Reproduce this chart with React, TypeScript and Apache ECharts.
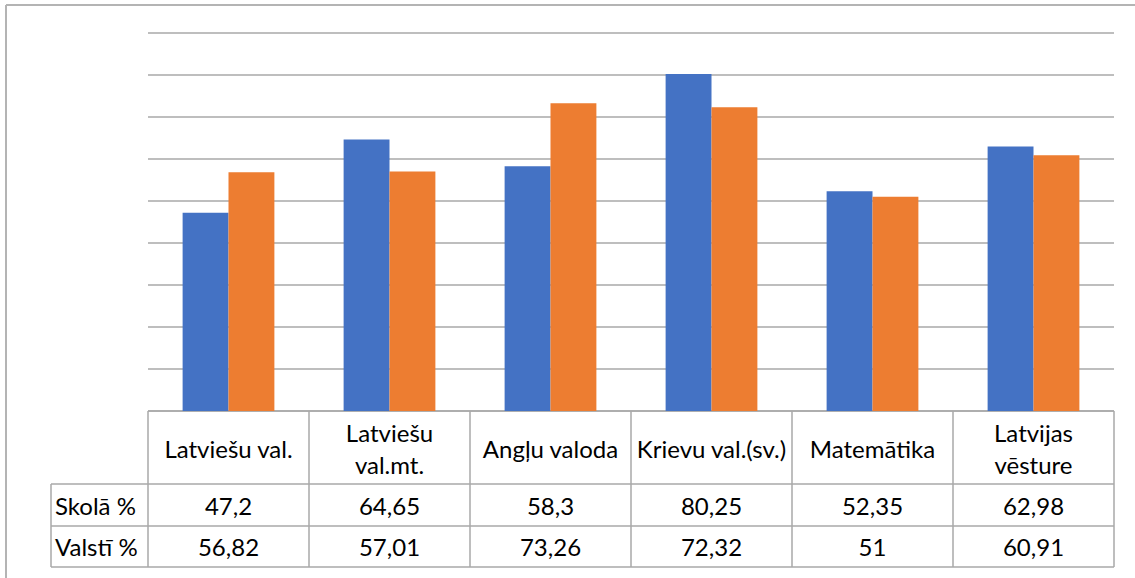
import React, { useEffect, useRef } from "react";
import * as echarts from "echarts";

const categories = [
  "Latviešu val.",
  "Latviešu\nval.mt.",
  "Angļu valoda",
  "Krievu val.(sv.)",
  "Matemātika",
  "Latvijas\nvēsture",
];
const seriesNames = ["Skolā %", "Valstī %"];
const skola = [47.2, 64.65, 58.3, 80.25, 52.35, 62.98];
const valsti = [56.82, 57.01, 73.26, 72.32, 51, 60.91];
const yMin = 0;
const yMax = 90;
const yStep = 10;

const fmt = (v: number) => String(v).replace(".", ",");

const W = 1135;
const H = 578;
const GL = 148;
const GR = 1114;
const GT = 33;
const GB = 411;
const ROW1 = 484;
const ROW2 = 526;
const ROW3 = 567;
const HEAD_L = 51;
const FONT = "Lato, 'Open Sans', sans-serif";
const FS = 24;
const LINE = "#A9A9A9";

export default function App() {
  const ref = useRef<HTMLDivElement>(null);
  useEffect(() => {
    if (!ref.current) return;
    const chart = echarts.init(ref.current, undefined, { renderer: "svg" });
    const colW = (GR - GL) / categories.length;
    const lines: any[] = [];
    const hl = (x1: number, x2: number, y: number, color = LINE, w = 1.5) =>
      lines.push({ type: "line", shape: { x1, y1: y, x2, y2: y }, style: { stroke: color, lineWidth: w }, silent: true });
    const vl = (x: number, y1: number, y2: number, color = LINE, w = 1.5) =>
      lines.push({ type: "line", shape: { x1: x, y1, x2: x, y2 }, style: { stroke: color, lineWidth: w }, silent: true });
    // outer border
    hl(6, W, 5, "#B4B4B4", 2);
    vl(6, 5, H, "#B4B4B4", 2);
    // table
    hl(GL, GR, GB);
    hl(HEAD_L, GR, ROW1);
    hl(HEAD_L, GR, ROW2);
    hl(HEAD_L, GR, ROW3);
    vl(HEAD_L, ROW1, ROW3);
    for (let i = 0; i <= categories.length; i++) vl(GL + i * colW, GB, ROW3);
    const heads = seriesNames.map((n, i) => ({
      type: "text",
      x: HEAD_L + 4,
      y: i === 0 ? (ROW1 + ROW2) / 2 : (ROW2 + ROW3) / 2,
      style: { text: n, font: `${FS}px ${FONT}`, fill: "#000", textAlign: "left", textVerticalAlign: "middle" },
      silent: true,
    }));

    const valueAxis = (data: number[], margin: number) => ({
      type: "category",
      data: data.map(fmt),
      position: "bottom",
      axisLine: { show: false },
      axisTick: { show: false },
      axisLabel: {
        interval: 0,
        margin,
        verticalAlign: "middle",
        fontFamily: FONT,
        fontSize: FS,
        color: "#000",
      },
    });

    chart.setOption({
      animation: false,
      grid: { left: GL, right: W - GR, top: GT, bottom: H - GB, containLabel: false },
      xAxis: [
        {
          type: "category",
          data: categories,
          axisLine: { show: false },
          axisTick: { show: false },
          axisLabel: {
            interval: 0,
            margin: 37,
            verticalAlign: "middle",
            lineHeight: 32,
            fontFamily: FONT,
            fontSize: FS,
            color: "#000",
          },
        },
        valueAxis(skola, (ROW1 + ROW2) / 2 - GB),
        valueAxis(valsti, (ROW2 + ROW3) / 2 - GB),
      ],
      yAxis: {
        type: "value",
        min: yMin,
        max: yMax,
        interval: yStep,
        axisLabel: { show: false },
        axisLine: { show: false },
        axisTick: { show: false },
        splitLine: { lineStyle: { color: LINE, width: 1.5 } },
      },
      series: [
        {
          name: seriesNames[0],
          type: "bar",
          data: skola,
          xAxisIndex: 0,
          barGap: "0%",
          barCategoryGap: "43%",
          itemStyle: { color: "#4472C4" },
        },
        {
          name: seriesNames[1],
          type: "bar",
          data: valsti,
          xAxisIndex: 0,
          barGap: "0%",
          barCategoryGap: "43%",
          itemStyle: { color: "#ED7D31" },
        },
      ],
      graphic: [...lines, ...heads],
    });
    return () => chart.dispose();
  }, []);
  return (
    <div
      ref={ref}
      style={{ position: "fixed", left: 0, top: 0, width: W, height: H, background: "#fff" }}
    />
  );
}
